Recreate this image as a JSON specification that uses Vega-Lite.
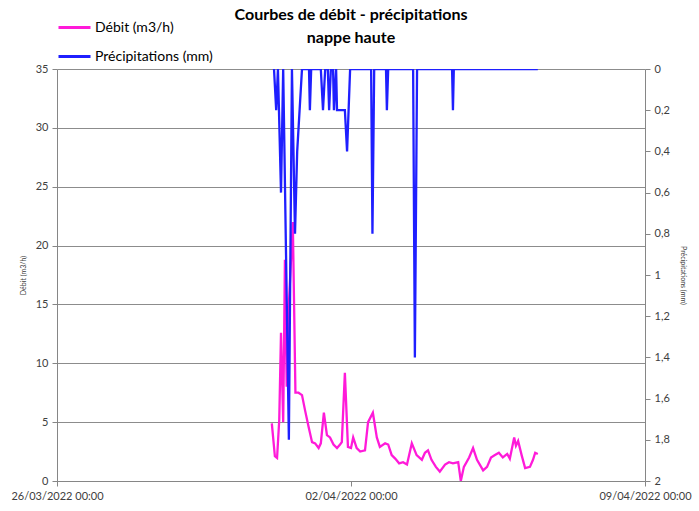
{
  "$schema": "https://vega.github.io/schema/vega-lite/v6.json",
  "width": 588,
  "height": 412,
  "autosize": {"type": "none"},
  "padding": {"left": 57, "top": 69, "right": 54, "bottom": 30},
  "background": "white",
  "title": {
    "text": ["Courbes de débit - précipitations", "nappe haute"],
    "font": "Lato",
    "fontSize": 16,
    "fontWeight": "bold",
    "color": "#000000",
    "lineHeight": 23,
    "offset": 23,
    "dy": 75,
    "frame": "group",
    "baseline": "bottom",
    "anchor": "middle"
  },
  "config": {
    "view": {"stroke": null},
    "font": "Lato",
    "axis": {"labelFont": "Lato", "titleFont": "Lato", "labelColor": "#404040", "titleColor": "#404040", "domainColor": "#868686", "tickColor": "#868686", "labelFontSize": 11}
  },
  "datasets": {
    "debit": [
      {"date": "2022-03-31T02:45", "serie": "Débit (m3/h)", "valeur": 4.9},
      {"date": "2022-03-31T04:30", "serie": "Débit (m3/h)", "valeur": 2.1},
      {"date": "2022-03-31T05:45", "serie": "Débit (m3/h)", "valeur": 1.95},
      {"date": "2022-03-31T07:00", "serie": "Débit (m3/h)", "valeur": 5.2},
      {"date": "2022-03-31T08:00", "serie": "Débit (m3/h)", "valeur": 12.6},
      {"date": "2022-03-31T09:15", "serie": "Débit (m3/h)", "valeur": 5.0},
      {"date": "2022-03-31T10:15", "serie": "Débit (m3/h)", "valeur": 18.8},
      {"date": "2022-03-31T11:15", "serie": "Débit (m3/h)", "valeur": 8.0},
      {"date": "2022-03-31T12:30", "serie": "Débit (m3/h)", "valeur": 15.0},
      {"date": "2022-03-31T14:45", "serie": "Débit (m3/h)", "valeur": 22.0},
      {"date": "2022-03-31T16:15", "serie": "Débit (m3/h)", "valeur": 7.5},
      {"date": "2022-03-31T18:00", "serie": "Débit (m3/h)", "valeur": 7.5},
      {"date": "2022-03-31T20:00", "serie": "Débit (m3/h)", "valeur": 7.3},
      {"date": "2022-03-31T21:45", "serie": "Débit (m3/h)", "valeur": 6.0},
      {"date": "2022-03-31T23:45", "serie": "Débit (m3/h)", "valeur": 4.6},
      {"date": "2022-04-01T01:45", "serie": "Débit (m3/h)", "valeur": 3.3},
      {"date": "2022-04-01T03:30", "serie": "Débit (m3/h)", "valeur": 3.2},
      {"date": "2022-04-01T05:30", "serie": "Débit (m3/h)", "valeur": 2.8},
      {"date": "2022-04-01T06:45", "serie": "Débit (m3/h)", "valeur": 3.2},
      {"date": "2022-04-01T08:30", "serie": "Débit (m3/h)", "valeur": 5.8},
      {"date": "2022-04-01T10:15", "serie": "Débit (m3/h)", "valeur": 3.9},
      {"date": "2022-04-01T12:00", "serie": "Débit (m3/h)", "valeur": 3.7},
      {"date": "2022-04-01T14:00", "serie": "Débit (m3/h)", "valeur": 3.1},
      {"date": "2022-04-01T16:00", "serie": "Débit (m3/h)", "valeur": 2.8},
      {"date": "2022-04-01T17:45", "serie": "Débit (m3/h)", "valeur": 3.1},
      {"date": "2022-04-01T18:45", "serie": "Débit (m3/h)", "valeur": 3.3},
      {"date": "2022-04-01T20:30", "serie": "Débit (m3/h)", "valeur": 9.2},
      {"date": "2022-04-01T22:15", "serie": "Débit (m3/h)", "valeur": 2.9},
      {"date": "2022-04-02T00:00", "serie": "Débit (m3/h)", "valeur": 2.8},
      {"date": "2022-04-02T01:15", "serie": "Débit (m3/h)", "valeur": 3.7},
      {"date": "2022-04-02T03:15", "serie": "Débit (m3/h)", "valeur": 2.8},
      {"date": "2022-04-02T05:15", "serie": "Débit (m3/h)", "valeur": 2.5},
      {"date": "2022-04-02T08:00", "serie": "Débit (m3/h)", "valeur": 2.6},
      {"date": "2022-04-02T09:45", "serie": "Débit (m3/h)", "valeur": 5.0},
      {"date": "2022-04-02T12:30", "serie": "Débit (m3/h)", "valeur": 5.8},
      {"date": "2022-04-02T14:45", "serie": "Débit (m3/h)", "valeur": 3.7},
      {"date": "2022-04-02T16:30", "serie": "Débit (m3/h)", "valeur": 2.9},
      {"date": "2022-04-02T19:30", "serie": "Débit (m3/h)", "valeur": 3.2},
      {"date": "2022-04-02T21:15", "serie": "Débit (m3/h)", "valeur": 3.1},
      {"date": "2022-04-02T23:15", "serie": "Débit (m3/h)", "valeur": 2.2},
      {"date": "2022-04-03T01:15", "serie": "Débit (m3/h)", "valeur": 1.9},
      {"date": "2022-04-03T03:30", "serie": "Débit (m3/h)", "valeur": 1.5},
      {"date": "2022-04-03T05:45", "serie": "Débit (m3/h)", "valeur": 1.6},
      {"date": "2022-04-03T08:00", "serie": "Débit (m3/h)", "valeur": 1.4},
      {"date": "2022-04-03T10:45", "serie": "Débit (m3/h)", "valeur": 3.2},
      {"date": "2022-04-03T13:30", "serie": "Débit (m3/h)", "valeur": 2.2},
      {"date": "2022-04-03T16:30", "serie": "Débit (m3/h)", "valeur": 1.8},
      {"date": "2022-04-03T18:15", "serie": "Débit (m3/h)", "valeur": 2.4},
      {"date": "2022-04-03T20:00", "serie": "Débit (m3/h)", "valeur": 2.6},
      {"date": "2022-04-03T22:00", "serie": "Débit (m3/h)", "valeur": 1.8},
      {"date": "2022-04-04T00:30", "serie": "Débit (m3/h)", "valeur": 1.2},
      {"date": "2022-04-04T02:45", "serie": "Débit (m3/h)", "valeur": 0.8},
      {"date": "2022-04-04T05:45", "serie": "Débit (m3/h)", "valeur": 1.4},
      {"date": "2022-04-04T08:00", "serie": "Débit (m3/h)", "valeur": 1.6},
      {"date": "2022-04-04T10:15", "serie": "Débit (m3/h)", "valeur": 1.5},
      {"date": "2022-04-04T13:15", "serie": "Débit (m3/h)", "valeur": 1.6},
      {"date": "2022-04-04T14:45", "serie": "Débit (m3/h)", "valeur": 0.0},
      {"date": "2022-04-04T16:30", "serie": "Débit (m3/h)", "valeur": 1.2},
      {"date": "2022-04-04T19:30", "serie": "Débit (m3/h)", "valeur": 2.0},
      {"date": "2022-04-04T21:45", "serie": "Débit (m3/h)", "valeur": 2.8},
      {"date": "2022-04-05T00:00", "serie": "Débit (m3/h)", "valeur": 1.8},
      {"date": "2022-04-05T03:30", "serie": "Débit (m3/h)", "valeur": 0.9},
      {"date": "2022-04-05T05:45", "serie": "Débit (m3/h)", "valeur": 1.2},
      {"date": "2022-04-05T08:00", "serie": "Débit (m3/h)", "valeur": 2.0},
      {"date": "2022-04-05T10:15", "serie": "Débit (m3/h)", "valeur": 2.2},
      {"date": "2022-04-05T12:30", "serie": "Débit (m3/h)", "valeur": 2.4},
      {"date": "2022-04-05T14:45", "serie": "Débit (m3/h)", "valeur": 2.0},
      {"date": "2022-04-05T17:15", "serie": "Débit (m3/h)", "valeur": 2.3},
      {"date": "2022-04-05T18:45", "serie": "Débit (m3/h)", "valeur": 1.9},
      {"date": "2022-04-05T21:15", "serie": "Débit (m3/h)", "valeur": 3.7},
      {"date": "2022-04-05T22:15", "serie": "Débit (m3/h)", "valeur": 3.0},
      {"date": "2022-04-05T23:30", "serie": "Débit (m3/h)", "valeur": 3.4},
      {"date": "2022-04-06T01:30", "serie": "Débit (m3/h)", "valeur": 2.2},
      {"date": "2022-04-06T03:30", "serie": "Débit (m3/h)", "valeur": 1.1},
      {"date": "2022-04-06T06:15", "serie": "Débit (m3/h)", "valeur": 1.2},
      {"date": "2022-04-06T08:00", "serie": "Débit (m3/h)", "valeur": 1.8},
      {"date": "2022-04-06T09:15", "serie": "Débit (m3/h)", "valeur": 2.4},
      {"date": "2022-04-06T10:45", "serie": "Débit (m3/h)", "valeur": 2.3}
    ],
    "precip": [
      {"date": "2022-03-31T04:00", "serie": "Précipitations (mm)", "valeur": 0},
      {"date": "2022-03-31T05:15", "serie": "Précipitations (mm)", "valeur": 0.2},
      {"date": "2022-03-31T06:15", "serie": "Précipitations (mm)", "valeur": 0},
      {"date": "2022-03-31T08:00", "serie": "Précipitations (mm)", "valeur": 0.6},
      {"date": "2022-03-31T09:15", "serie": "Précipitations (mm)", "valeur": 0},
      {"date": "2022-03-31T12:30", "serie": "Précipitations (mm)", "valeur": 1.8},
      {"date": "2022-03-31T14:15", "serie": "Précipitations (mm)", "valeur": 0},
      {"date": "2022-03-31T16:00", "serie": "Précipitations (mm)", "valeur": 0.8},
      {"date": "2022-03-31T17:15", "serie": "Précipitations (mm)", "valeur": 0.4},
      {"date": "2022-03-31T20:00", "serie": "Précipitations (mm)", "valeur": 0},
      {"date": "2022-04-01T00:00", "serie": "Précipitations (mm)", "valeur": 0},
      {"date": "2022-04-01T00:30", "serie": "Précipitations (mm)", "valeur": 0.2},
      {"date": "2022-04-01T01:15", "serie": "Précipitations (mm)", "valeur": 0},
      {"date": "2022-04-01T06:45", "serie": "Précipitations (mm)", "valeur": 0},
      {"date": "2022-04-01T08:00", "serie": "Précipitations (mm)", "valeur": 0.2},
      {"date": "2022-04-01T09:15", "serie": "Précipitations (mm)", "valeur": 0},
      {"date": "2022-04-01T10:45", "serie": "Précipitations (mm)", "valeur": 0},
      {"date": "2022-04-01T11:30", "serie": "Précipitations (mm)", "valeur": 0.2},
      {"date": "2022-04-01T12:30", "serie": "Précipitations (mm)", "valeur": 0},
      {"date": "2022-04-01T13:45", "serie": "Précipitations (mm)", "valeur": 0},
      {"date": "2022-04-01T14:15", "serie": "Précipitations (mm)", "valeur": 0.2},
      {"date": "2022-04-01T15:30", "serie": "Précipitations (mm)", "valeur": 0},
      {"date": "2022-04-01T16:00", "serie": "Précipitations (mm)", "valeur": 0.2},
      {"date": "2022-04-01T20:30", "serie": "Précipitations (mm)", "valeur": 0.2},
      {"date": "2022-04-01T21:45", "serie": "Précipitations (mm)", "valeur": 0.4},
      {"date": "2022-04-01T23:30", "serie": "Précipitations (mm)", "valeur": 0},
      {"date": "2022-04-02T11:30", "serie": "Précipitations (mm)", "valeur": 0},
      {"date": "2022-04-02T12:15", "serie": "Précipitations (mm)", "valeur": 0.8},
      {"date": "2022-04-02T13:15", "serie": "Précipitations (mm)", "valeur": 0},
      {"date": "2022-04-02T20:00", "serie": "Précipitations (mm)", "valeur": 0},
      {"date": "2022-04-02T20:30", "serie": "Précipitations (mm)", "valeur": 0.2},
      {"date": "2022-04-02T21:15", "serie": "Précipitations (mm)", "valeur": 0},
      {"date": "2022-04-03T11:30", "serie": "Précipitations (mm)", "valeur": 0},
      {"date": "2022-04-03T12:30", "serie": "Précipitations (mm)", "valeur": 1.4},
      {"date": "2022-04-03T13:45", "serie": "Précipitations (mm)", "valeur": 0},
      {"date": "2022-04-04T09:45", "serie": "Précipitations (mm)", "valeur": 0},
      {"date": "2022-04-04T10:15", "serie": "Précipitations (mm)", "valeur": 0.2},
      {"date": "2022-04-04T10:45", "serie": "Précipitations (mm)", "valeur": 0},
      {"date": "2022-04-06T10:45", "serie": "Précipitations (mm)", "valeur": 0}
    ]
  },
  "encoding": {
    "x": {
      "field": "date",
      "type": "temporal",
      "scale": {"domain": [{"year": 2022, "month": 3, "date": 26}, {"year": 2022, "month": 4, "date": 9}]},
      "axis": {
        "title": null,
        "grid": false,
        "values": [{"year": 2022, "month": 3, "date": 26}, {"year": 2022, "month": 4, "date": 2}, {"year": 2022, "month": 4, "date": 9}],
        "format": "%d/%m/%Y %H:%M",
        "labelFlush": false,
        "labelOverlap": false,
        "tickSize": 5,
        "labelPadding": 4
      }
    },
    "color": {
      "field": "serie",
      "type": "nominal",
      "scale": {"domain": ["Débit (m3/h)", "Précipitations (mm)"], "range": ["#ff1ad9", "#1f1fff"]},
      "legend": {
        "title": null,
        "orient": "none",
        "legendX": 0,
        "legendY": -59,
        "padding": 0,
        "symbolType": "stroke",
        "symbolSize": 1024,
        "symbolStrokeWidth": 3,
        "rowPadding": 4,
        "labelFont": "Lato",
        "labelFontSize": 14,
        "labelColor": "#000000",
        "labelOffset": 3
      }
    }
  },
  "layer": [
    {
      "data": {"name": "debit"},
      "mark": {"type": "line", "strokeWidth": 2.3, "clip": true},
      "encoding": {
        "y": {
          "field": "valeur",
          "type": "quantitative",
          "scale": {"domain": [0, 35], "nice": false, "zero": true},
          "axis": {
            "title": "Débit (m3/h)",
            "titleFontSize": 7,
            "titleFontWeight": "normal",
            "titlePadding": 9,
            "values": [0, 5, 10, 15, 20, 25, 30, 35],
            "grid": true,
            "gridColor": "#8c8c8c",
            "gridWidth": 1,
            "tickSize": 5,
            "labelPadding": 4
          }
        }
      }
    },
    {
      "data": {"name": "precip"},
      "mark": {"type": "line", "strokeWidth": 2.3, "clip": true},
      "encoding": {
        "y": {
          "field": "valeur",
          "type": "quantitative",
          "scale": {"domain": [0, 2], "reverse": true, "nice": false},
          "axis": {
            "orient": "right",
            "title": "Précipitations (mm)",
            "titleFontSize": 7,
            "titleFontWeight": "normal",
            "titlePadding": 10,
            "values": [0, 0.2, 0.4, 0.6, 0.8, 1, 1.2, 1.4, 1.6, 1.8, 2],
            "labelExpr": "replace(format(datum.value, '.1~f'), '.', ',')",
            "grid": false,
            "tickSize": 5,
            "labelPadding": 4
          }
        }
      }
    }
  ],
  "resolve": {"scale": {"y": "independent"}}
}
